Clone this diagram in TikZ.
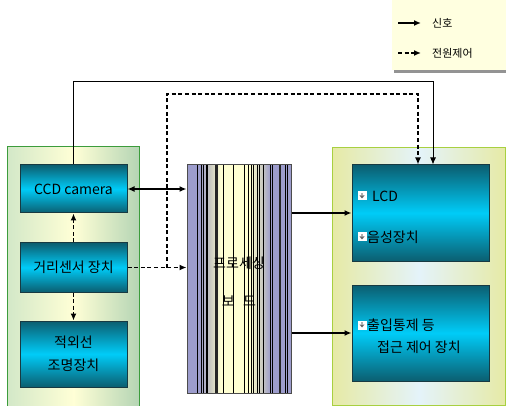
\documentclass[tikz,border=0pt]{standalone}
\usepackage{fontspec}
\setmainfont{Noto Sans CJK KR}
\usetikzlibrary{arrows.meta,calc,positioning,shadows}
\definecolor{ink}{HTML}{000000}
\definecolor{boxdark}{HTML}{0B5E70}
\definecolor{boxcyan}{HTML}{00CCF8}
\definecolor{boxline}{HTML}{173A42}
\definecolor{leftedge}{HTML}{D3E8C8}
\definecolor{leftmid}{HTML}{FFFFD6}
\definecolor{rightedge}{HTML}{B4D4B4}
\definecolor{leftline}{HTML}{3C9C3C}
\definecolor{outyellow}{HTML}{E6EAA6}
\definecolor{outblue}{HTML}{E4F3FA}
\definecolor{outline}{HTML}{A8D040}
\definecolor{boardpurple}{HTML}{9C9CCC}
\definecolor{boardgray}{HTML}{C8C8C0}
\definecolor{boardyellow}{HTML}{FFFFD2}
\definecolor{keyfill}{HTML}{FFFFE0}
\pgfdeclarehorizontalshading{boardshade}{100bp}{color(0bp)=(boardpurple); color(25bp)=(boardpurple); color(31bp)=(boardpurple); color(36bp)=(boardgray); color(41bp)=(boardyellow); color(55bp)=(boardyellow); color(61bp)=(boardgray); color(65bp)=(boardpurple); color(75bp)=(boardpurple); color(100bp)=(boardpurple)}
\newcommand{\boxfont}{\fontsize{14}{16}\selectfont}
\tikzset{
 every node/.append style={font=\boxfont,text=ink,align=center},
 panel/.style={draw=leftline,line width=1.3pt,inner sep=0pt},
 unit/.style={draw=boxline,line width=1pt,top color=boxdark,bottom color=boxdark,middle color=boxcyan,inner sep=0pt},
 word/.style={inner sep=1pt,anchor=west,align=left},
 bullet/.style={fill=white,minimum size=9,inner sep=0pt,path picture={
   \fill[gray!80!black] ([xshift=-2.5pt,yshift=.5pt]path picture bounding box.center) -- ([xshift=2.5pt,yshift=.5pt]path picture bounding box.center) -- ([yshift=-2.5pt]path picture bounding box.center) -- cycle;
   \fill[gray!60] ([xshift=-1.2pt,yshift=.5pt]path picture bounding box.center) rectangle ([xshift=1.2pt,yshift=3pt]path picture bounding box.center);}},
 sig/.style={draw=ink,line width=1.4pt,-{Latex[length=7pt,width=6pt]}},
 pwr/.style={draw=ink,line width=1.5pt,dash pattern=on 4pt off 2.6pt,-{Latex[length=7pt,width=6pt]}},
 stripe/.style={draw=black,line width=.7pt},
}

\begin{document}
\begin{tikzpicture}[x=1pt,y=-1pt]

\useasboundingbox (0,0) rectangle (506,406);
% legend
\node[draw=none,fill=keyfill,minimum width=114,minimum height=70,inner sep=0pt,anchor=north west,
 drop shadow={shadow xshift=2pt,shadow yshift=-3pt,fill=gray!85,opacity=1}] (legend) at (392,0) {};
\node[word,font=\fontsize{11}{13}\selectfont] (sigkey) at (431,23) {신호};
\node[word,font=\fontsize{11}{13}\selectfont] (pwrkey) at (431,53) {전원제어};
\coordinate (sigkeystart) at (398,23);
\coordinate (pwrkeystart) at (398,53);
\draw[sig] (sigkeystart) -- ([xshift=-10]sigkey.west);
\draw[pwr] (pwrkeystart) -- ([xshift=-10]pwrkey.west);

% panels
\node[panel,left color=leftedge,right color=rightedge,middle color=leftmid,minimum width=132,minimum height=260,anchor=north west] (leftpanel) at (7,146) {};
\node[panel,draw=outline,left color=outyellow,right color=outyellow,middle color=outblue,minimum width=173,minimum height=258,anchor=north west] (rightpanel) at (332,147) {};

% input units
\node[unit,minimum width=107,minimum height=48] (cam) at (73.5,189) {CCD camera};
\node[unit,minimum width=107,minimum height=49] (dist) at (73.5,267.5) {거리센서 장치};
\node[unit,minimum width=107,minimum height=66] (ir) at (73.5,354) {적외선\\[7pt]조명장치};

% processing board
\node[draw=black!70,line width=1pt,shading=boardshade,minimum width=104,minimum height=228,inner sep=0pt] (board) at (239,279) {};
\foreach \x in {197,201,203,206,207,223,233,244,248,251,253,257,259,263,270,272,285,287}
 \draw[stripe] (\x,165) -- (\x,393);
\foreach \x in {216.5,280} \draw[stripe,line width=2.5pt,draw=black!85] (\x,165) -- (\x,393);
\node (boardtext) at ([yshift=-3]board.center) {프로세싱\\[22pt]보\hspace{0.6em}드};

% output units
\node[unit,minimum width=137,minimum height=96] (disp) at (420.5,213) {};
\node[unit,minimum width=137,minimum height=96] (access) at (420.5,333) {};
\node[bullet] (b1) at (362,196) {};
\node[word] (lcd) at (371,196) {LCD};
\node[bullet] (b2) at (362,237) {};
\node[word] (voice) at (366,237) {음성장치};
\node[bullet] (b3) at (362,325) {};
\node[word] (gate) at (366,325) {출입통제 등};
\node[word] (gate2) at (376,347) {접근 제어 장치};

% connectors
\draw[sig,{Latex[length=7pt,width=6pt]}-{Latex[length=7pt,width=6pt]}] (cam.east) -- (cam.east -| board.west);
\draw[pwr] (dist.north) -- (cam.south);
\draw[pwr] (dist.south) -- (ir.north);
\draw[pwr] (dist.east) -- (dist.east -| board.west);
\coordinate (split) at (167,267.5);
\coordinate (pwrtop) at (418,94);
\coordinate (sigtop) at (433,82);
\draw[pwr] (split) |- (pwrtop) -- (pwrtop |- disp.north);
\draw[sig,line width=1pt] (cam.north) |- (sigtop) -- (sigtop |- disp.north);
\draw[sig] (board.east |- disp.west) -- (disp.west);
\draw[sig] (board.east |- access.west) -- (access.west);

\end{tikzpicture}
\end{document}
